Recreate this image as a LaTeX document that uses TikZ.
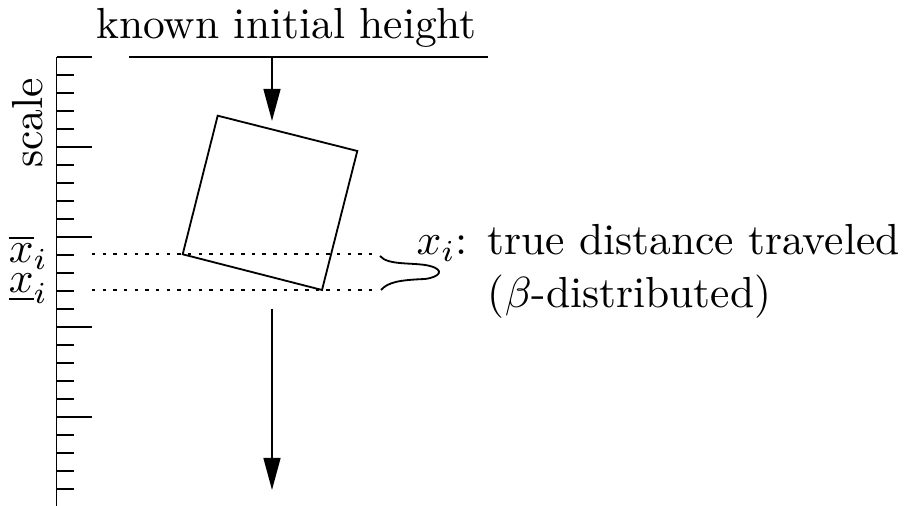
\documentclass[tikz,border=0pt]{standalone}
\usetikzlibrary{arrows.meta}
\begin{document}
\begin{tikzpicture}[x=0.23pt,y=-0.23pt,
  ln/.style={line width=0.42pt},
  arr/.style={ln,-{Triangle[length=7.4pt,width=3.9pt]}},
  dots/.style={line width=0.42pt,dash pattern=on 0.8pt off 1.65pt},
  lbl/.style={inner sep=0pt,font=\fontsize{10}{12}\selectfont}]
\path[use as bounding box] (0,0) rectangle (915,506);
% scale
\coordinate (stop) at (56.5,57);
\coordinate (sbot) at (56.5,510);
\draw[ln] (stop) -- (sbot);
\foreach \i in {0,...,25}{
  \pgfmathsetmacro{\yy}{57+18*\i}
  \pgfmathtruncatemacro{\m}{mod(\i,5)}
  \ifnum\m=0
    \draw[ln] (56.5,\yy) -- (92,\yy);
  \else
    \draw[ln] (56.5,\yy) -- (74,\yy);
  \fi
}
\node[lbl,rotate=90,anchor=base] (scale) at (42,123) {scale};
\node[lbl,anchor=base west] (xup) at (8,263) {$\overline{x}_i$};
\node[lbl,anchor=base west] (xlo) at (8,293) {$\underline{x}_i$};
% heights
\coordinate (tl) at (129,57);
\coordinate (tr) at (488,57);
\coordinate (bl) at (129,506.45);
\coordinate (br) at (488,506.45);
\draw[ln] (tl) -- (tr);
\draw[ln] (bl) -- (br);
\node[lbl,anchor=base] (known) at (286.5,39) {known initial height};
\coordinate (a1s) at (272,57);
\coordinate (a1e) at (272,121);
\draw[arr] (a1s) -- (a1e);
\coordinate (a2s) at (272,309);
\coordinate (a2e) at (272,490);
\draw[arr] (a2s) -- (a2e);
% square
\coordinate (q1) at (217.7,115.7);
\coordinate (q2) at (357.3,151);
\coordinate (q3) at (322,290);
\coordinate (q4) at (182.7,254.3);
\draw[ln,line join=miter] (q1) -- (q2) -- (q3) -- (q4) -- cycle;
% dotted levels
\coordinate (d1s) at (92,254.3);
\coordinate (d1e) at (374,254.3);
\coordinate (d2s) at (92,290);
\coordinate (d2e) at (374,290);
\draw[dots] (d1s) -- (d1e);
\draw[dots] (d2s) -- (d2e);
% distribution curve
\coordinate (c1) at (380,256);
\coordinate (c2) at (381,290);
\draw[ln] (c1) .. controls (388,266) and (415,262) .. (430,266)
  .. controls (445,270) and (440,277) .. (425,279)
  .. controls (400,280) and (388,282) .. (c2);
% text
\node[lbl,anchor=base west] (t1) at (415.7,255) {$x_i$: true distance traveled};
\node[lbl,anchor=base west] (t2) at (487,308) {($\beta$-distributed)};
\end{tikzpicture}
\end{document}
